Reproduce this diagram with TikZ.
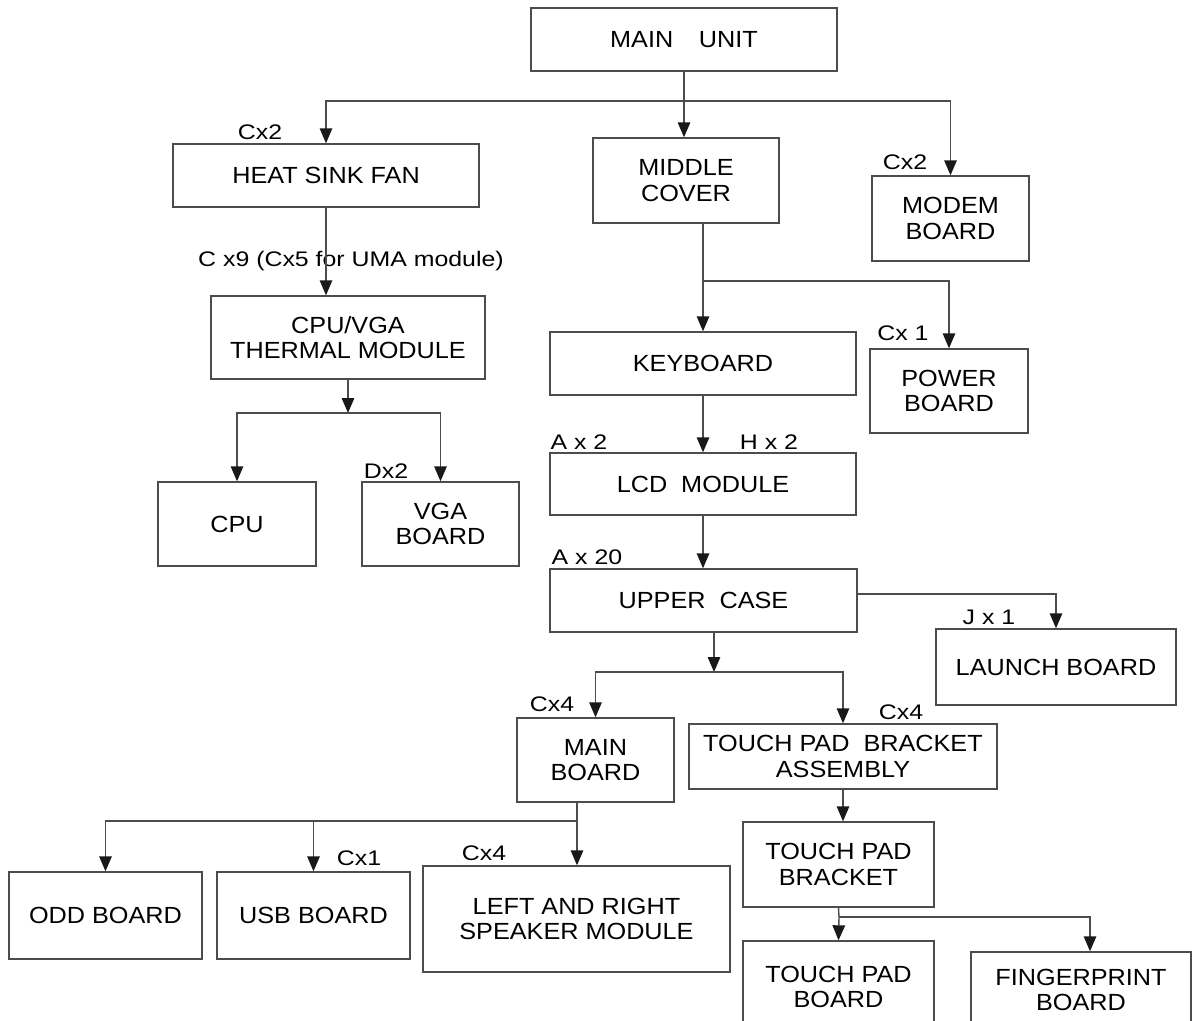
\documentclass[tikz,border=0pt]{standalone}
\usepackage{fontspec}
\setmainfont{Liberation Sans}
\newfontfamily\boxfont[FakeStretch=1.08]{Liberation Sans}
\newfontfamily\tagfont[FakeStretch=1.18]{Liberation Sans}
\usetikzlibrary{arrows.meta, positioning}

\begin{document}
\begin{tikzpicture}[
    x=0.02cm, y=-0.02cm,
    block/.style={rectangle, draw=black!70, thick, inner sep=0pt, align=center, fill=white, font=\boxfont\fontsize{13.3}{14.6}\selectfont},
    tag/.style={inner sep=0pt, font=\tagfont\fontsize{12}{14}\selectfont},
    >={Triangle[length=0.3cm, width=0.25cm, color=black!90]}
]
\useasboundingbox (0,0) rectangle (1204,1021);
\clip (0,0) rectangle (1204,1021);
\node[block, minimum width=6.12cm, minimum height=1.26cm] (unit)    at (684,39.5)    {MAIN\hspace{1.1em}UNIT};
\node[block, minimum width=6.12cm, minimum height=1.26cm] (fan)     at (326,175.5)   {HEAT SINK FAN};
\node[block, minimum width=3.72cm, minimum height=1.70cm] (cover)   at (686,180.5)   {MIDDLE\\COVER};
\node[block, minimum width=3.14cm, minimum height=1.70cm] (modem)   at (950.5,218.5) {MODEM\\BOARD};
\node[block, minimum width=5.48cm, minimum height=1.66cm] (thermal) at (348,337.5)   {CPU/VGA\\THERMAL MODULE};
\node[block, minimum width=3.16cm, minimum height=1.68cm] (cpu)     at (237,524)     {CPU};
\node[block, minimum width=3.14cm, minimum height=1.68cm] (vga)     at (440.5,524)   {VGA\\BOARD};
\node[block, minimum width=6.12cm, minimum height=1.26cm] (kbd)     at (703,363.5)   {KEYBOARD};
\node[block, minimum width=3.16cm, minimum height=1.68cm] (power)   at (949,391)     {POWER\\BOARD};
\node[block, minimum width=6.12cm, minimum height=1.24cm] (lcd)     at (703,484)     {LCD~ MODULE};
\node[block, minimum width=6.14cm, minimum height=1.26cm] (upper)   at (703.5,600.5) {UPPER~ CASE};
\node[block, minimum width=4.80cm, minimum height=1.52cm] (launch)  at (1056,667)    {LAUNCH BOARD};
\node[block, minimum width=3.14cm, minimum height=1.68cm] (mainbd)  at (595.5,760)   {MAIN\\BOARD};
\node[block, minimum width=6.16cm, minimum height=1.30cm] (tpba)    at (843,756.5)   {TOUCH PAD~ BRACKET\\ASSEMBLY};
\node[block, minimum width=3.86cm, minimum height=1.74cm] (odd)     at (105.5,915.5) {ODD BOARD};
\node[block, minimum width=3.86cm, minimum height=1.74cm] (usb)     at (313.5,915.5) {USB BOARD};
\node[block, minimum width=6.14cm, minimum height=2.12cm] (speaker) at (576.5,919)   {LEFT AND RIGHT\\SPEAKER MODULE};
\node[block, minimum width=3.82cm, minimum height=1.70cm] (tpb)     at (838.5,864.5) {TOUCH PAD\\BRACKET};
\node[block, minimum width=3.82cm, minimum height=1.84cm] (tpbd)    at (838.5,987)   {TOUCH PAD\\BOARD};
\node[block, minimum width=4.40cm, minimum height=1.52cm] (finger)  at (1081,990)    {FINGERPRINT\\BOARD};
\node[tag] (tfan)     at (260,132)  {Cx2};
\node[tag] (tmodem)   at (905,162)  {Cx2};
\node[tag] (tthermal) at (351,261)  {C x9 (Cx5 for UMA module)};
\node[tag] (tvga)     at (386,471)  {Dx2};
\node[tag] (tpower)   at (903,333)  {Cx 1};
\node[tag] (tlcda)    at (579,442)  {A x 2};
\node[tag] (tlcdh)    at (769,442)  {H x 2};
\node[tag] (tupper)   at (587,557)  {A x 20};
\node[tag] (tlaunch)  at (989,617)  {J x 1};
\node[tag] (tmainbd)  at (552,704)  {Cx4};
\node[tag] (ttpba)    at (901,712)  {Cx4};
\node[tag] (tusb)     at (359,858)  {Cx1};
\node[tag] (tspeaker) at (484,853)  {Cx4};
\coordinate (s1) at (684,101);
\coordinate (s2) at (348,413);
\coordinate (s3) at (703,281);
\coordinate (s4) at (1055,594);
\coordinate (s5) at (714,672);
\coordinate (s6) at (577,821);
\coordinate (s7) at (839,917);
\coordinate (s8) at (1090,917);
\draw[->, thick, black!70] (unit.south) -- (unit.south |- cover.north);
\draw[->, thick, black!70] (s1) -| (fan.north);
\draw[->, thick, black!70] (s1) -| (modem.north);
\draw[->, thick, black!70] (fan.south) -- (fan.south |- thermal.north);
\draw[->, thick, black!70] (thermal.south) -- (s2);
\draw[->, thick, black!70] (s2) -| (cpu.north);
\draw[->, thick, black!70] (s2) -| (vga.north);
\draw[thick, black!70] (s3 |- cover.south) -- (s3);
\draw[->, thick, black!70] (s3) -- (kbd.north);
\draw[->, thick, black!70] (s3) -| (power.north);
\draw[->, thick, black!70] (kbd) -- (lcd);
\draw[->, thick, black!70] (lcd.south) -- (lcd.south |- upper.north);
\draw[->, thick, black!70] (upper.east |- s4) -| (launch.north);
\draw[->, thick, black!70] (s5 |- upper.south) -- (s5);
\draw[->, thick, black!70] (s5) -| (mainbd.north);
\draw[->, thick, black!70] (s5) -| (tpba.north);
\draw[->, thick, black!70] (tpba.south) -- (tpba.south |- tpb.north);
\draw[thick, black!70] (s6 |- mainbd.south) -- (s6);
\draw[->, thick, black!70] (s6) -- (s6 |- speaker.north);
\draw[->, thick, black!70] (s6) -| (odd.north);
\draw[->, thick, black!70] (s6) -| (usb.north);
\draw[thick, black!70] (tpb.south) -- (s7);
\draw[->, thick, black!70] (s7) -- (tpbd.north);
\draw[->, thick, black!70] (s7) -- (s8) -- (s8 |- finger.north);
\end{tikzpicture}
\end{document}
